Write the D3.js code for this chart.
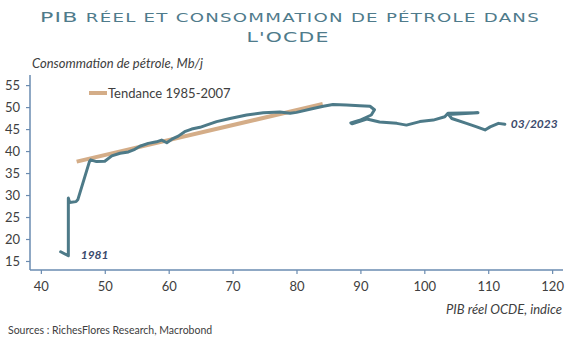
<!DOCTYPE html>
<html>
<head>
<meta charset="utf-8">
<script src="https://cdn.jsdelivr.net/npm/d3@7"></script>
<style>
  body { margin: 0; background: #fff; }
  #canvas { width: 580px; height: 348px; }
</style>
</head>
<body>
<div id="canvas"></div>
<script>
// OCDE real GDP index (x) vs oil consumption in Mb/d (y), 1981 -> 03/2023
var gdpIndex = [43.1, 44.3, 44.3, 44.5, 45.5, 45.8, 47.6, 47.8, 48.7, 50.0,
                51.1, 52.4, 53.7, 54.7, 55.5, 56.8, 58.1, 58.9, 59.7, 60.5,
                61.5, 62.5, 63.6, 64.9, 65.9, 67.5, 69.6, 72.2, 74.8, 77.4,
                79.0, 80.0, 82.6, 84.2, 85.7, 87.8, 89.9, 91.5, 92.2, 91.7,
                89.9, 88.5, 88.7, 91.0, 93.0, 95.7, 97.2, 99.3, 101.4, 103.2,
                103.7, 108.4, 103.8, 104.3, 106.6, 108.2, 109.5, 110.3, 111.6, 112.6];
var oilDemand = [17.1, 16.2, 29.3, 28.3, 28.5, 29.0, 37.6, 38.0, 37.6, 37.7,
                 38.9, 39.5, 39.8, 40.4, 41.1, 41.75, 42.1, 42.5, 41.9, 42.7,
                 43.4, 44.4, 45.0, 45.4, 45.9, 46.7, 47.4, 48.2, 48.7, 48.9,
                 48.6, 48.8, 49.7, 50.2, 50.6, 50.45, 50.3, 50.2, 49.4, 48.2,
                 47.0, 46.4, 46.2, 47.3, 46.6, 46.3, 45.9, 46.7, 47.05, 47.8,
                 48.6, 48.7, 48.3, 47.4, 46.3, 45.5, 44.8, 45.5, 46.3, 46.1];

// trend 1985-2007
var trendX = [45.6, 84.1];
var trendY = [37.6, 50.7];

var xTicks = [40, 50, 60, 70, 80, 90, 100, 110, 120];
var yTicks = [15, 20, 25, 30, 35, 40, 45, 50, 55];

var width = 580, height = 348;
var axisColor = "#6a8bb0";
var lineColor = "#4d7a88";
var trendColor = "#d4ad88";
var labelColor = "#3b4a6c";

var svg = d3.select("#canvas")
            .append("svg")
                .attr("width", width)
                .attr("height", height)
                .style("font-family", "Lato, 'Open Sans', sans-serif");

var xScale = d3.scaleLinear()
            .domain([38.3, 121.7])
            .range([30, 563]);

var yScale = d3.scaleLinear()
            .domain([12.95, 57.3])
            .range([270, 75]);

// title (wide geometric look -> stretch glyphs)
var title = svg.append("text")
    .attr("x", 290)
    .attr("y", 22)
    .attr("text-anchor", "middle")
    .attr("fill", "#4f7b8b")
    .style("font-family", "'DejaVu Sans', sans-serif")
    .style("letter-spacing", "0.8px")
    .attr("textLength", 500)
    .attr("lengthAdjust", "spacingAndGlyphs");
title.append("tspan").attr("font-size", "14px").text("PIB");
title.append("tspan").attr("font-size", "11.5px").text(" RÉEL ET CONSOMMATION DE PÉTROLE DANS");

svg.append("text")
    .attr("x", 288)
    .attr("y", 42)
    .attr("text-anchor", "middle")
    .attr("fill", "#4f7b8b")
    .attr("font-size", "14px")
    .style("font-family", "'DejaVu Sans', sans-serif")
    .style("letter-spacing", "0.8px")
    .attr("textLength", 83)
    .attr("lengthAdjust", "spacingAndGlyphs")
    .text("L'OCDE");

// axis titles
svg.append("text")
    .attr("x", 32)
    .attr("y", 68)
    .attr("font-size", "13px")
    .attr("font-style", "italic")
    .attr("fill", "#404040")
    .text("Consommation de pétrole, Mb/j");

svg.append("text")
    .attr("x", 562)
    .attr("y", 314)
    .attr("text-anchor", "end")
    .attr("font-size", "13px")
    .attr("font-style", "italic")
    .attr("fill", "#404040")
    .text("PIB réel OCDE, indice");

// axes
var xAxis = d3.axisBottom(xScale)
            .tickValues(xTicks)
            .tickSize(4)
            .tickPadding(8);

var yAxis = d3.axisLeft(yScale)
            .tickValues(yTicks)
            .tickSize(4)
            .tickPadding(6);

var gx = svg.append("g")
    .attr("class", "x axis")
    .attr("transform", "translate(0,270)")
    .call(xAxis);

var gy = svg.append("g")
    .attr("class", "y axis")
    .attr("transform", "translate(30,0)")
    .call(yAxis);

[gx, gy].forEach(function(g) {
    g.select(".domain").attr("stroke", axisColor).attr("stroke-width", 1.5);
    g.selectAll(".tick line").attr("stroke", axisColor).attr("stroke-width", 1.2);
    g.selectAll(".tick text")
        .attr("fill", "#404040")
        .attr("font-size", "13px")
        .style("font-family", "Lato, sans-serif");
});
gy.select(".domain").attr("d", "M0," + yScale.range()[1] + "V270");
gx.select(".domain").attr("d", "M30,0H563");

// trend line
var line = d3.line()
            .x(function(d) { return xScale(d[0]); })
            .y(function(d) { return yScale(d[1]); });

svg.append("path")
    .datum(d3.zip(trendX, trendY))
    .attr("d", line)
    .attr("fill", "none")
    .attr("stroke", trendColor)
    .attr("stroke-width", 4);

// main series
svg.append("path")
    .datum(d3.zip(gdpIndex, oilDemand))
    .attr("d", line)
    .attr("fill", "none")
    .attr("stroke", lineColor)
    .attr("stroke-width", 3)
    .attr("stroke-linejoin", "round")
    .attr("stroke-linecap", "round");

// legend
svg.append("line")
    .attr("x1", 89).attr("x2", 107)
    .attr("y1", 93).attr("y2", 93)
    .attr("stroke", trendColor)
    .attr("stroke-width", 4);

svg.append("text")
    .attr("x", 108)
    .attr("y", 97.5)
    .attr("font-size", "13px")
    .attr("fill", "#404040")
    .text("Tendance 1985-2007");

// date labels
var last = gdpIndex.length - 1;
svg.append("text")
    .attr("x", xScale(gdpIndex[0]) + 20)
    .attr("y", yScale(oilDemand[0]) + 7)
    .attr("font-size", "12px")
    .attr("font-weight", "bold")
    .attr("font-style", "italic")
    .attr("fill", labelColor)
    .text("1981");

svg.append("text")
    .attr("x", xScale(gdpIndex[last]) + 6)
    .attr("y", yScale(oilDemand[last]) + 4)
    .attr("font-size", "12px")
    .attr("font-weight", "bold")
    .attr("font-style", "italic")
    .attr("fill", labelColor)
    .text("03/2023");

// source
svg.append("text")
    .attr("x", 8)
    .attr("y", 334)
    .attr("font-size", "10.5px")
    .attr("fill", "#404040")
    .text("Sources : RichesFlores Research, Macrobond");
</script>
</body>
</html>
